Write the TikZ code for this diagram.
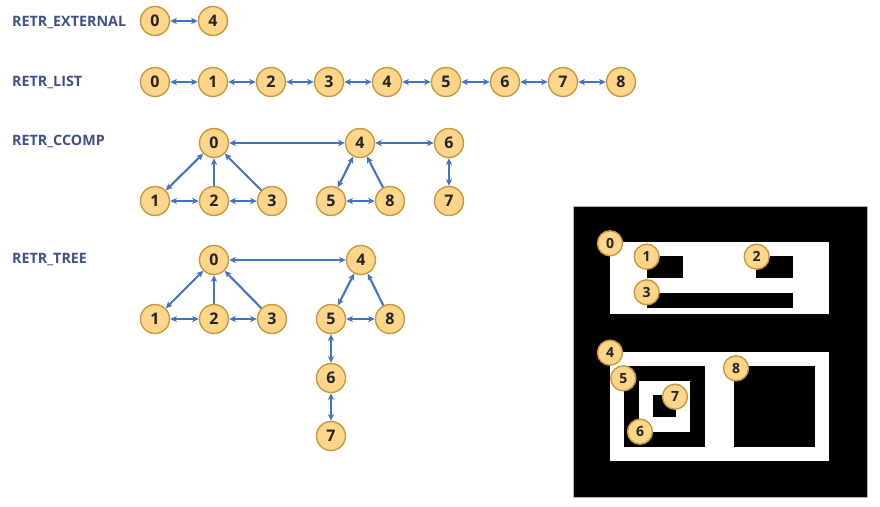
\documentclass[tikz,border=0pt]{standalone}
\usepackage{fontspec}
\setmainfont{Open Sans}
\usetikzlibrary{arrows.meta}
\definecolor{nodefill}{HTML}{FDD68C}
\definecolor{nodeline}{HTML}{C49A3C}
\definecolor{edgeblue}{HTML}{4472C4}
\definecolor{labelblue}{HTML}{3E5088}
\definecolor{digit}{HTML}{222222}
\begin{document}
\begin{tikzpicture}[x=1pt,y=-1pt,
  vtx/.style={circle,draw=nodeline,fill=nodefill,line width=1.4pt,minimum size=29pt,
    inner sep=0pt,text=digit,font=\bfseries\fontsize{16}{16}\selectfont},
  badge/.style={circle,draw=nodeline,fill=nodefill,line width=1.4pt,minimum size=25pt,
    inner sep=0pt,text=digit,font=\bfseries\fontsize{14}{14}\selectfont},
  title/.style={anchor=base west,inner sep=0pt,text=labelblue,font=\bfseries\fontsize{14.3}{15}\selectfont},
  tip/.tip={Stealth[length=6.5pt,width=6pt,inset=1.5pt]},
  link/.style={draw=edgeblue,line width=2.1pt,tip-tip},
  oneway/.style={draw=edgeblue,line width=2.1pt,-tip}]
\useasboundingbox (0,0) rectangle (880,506);

% ---------- RETR_EXTERNAL ----------
\node[title] (tE) at (12,26.5) {RETR\_EXTERNAL};
\node[vtx] (e0) at (155,21) {0};
\node[vtx] (e4) at (213,21) {4};
\draw[link] (e0) -- (e4);

% ---------- RETR_LIST ----------
\node[title] (tL) at (12,86) {RETR\_LIST};
\foreach \i/\x in {0/155,1/213,2/271,3/329,4/387,5/446,6/505,7/563,8/621}
  \node[vtx] (l\i) at (\x,82) {\i};
\foreach \a/\b in {0/1,1/2,2/3,3/4,4/5,5/6,6/7,7/8}
  \draw[link] (l\a) -- (l\b);

% ---------- RETR_CCOMP ----------
\node[title] (tC) at (12,145.5) {RETR\_CCOMP};
\node[vtx] (c0) at (214,143) {0};
\node[vtx] (c4) at (360,143) {4};
\node[vtx] (c6) at (449,143) {6};
\node[vtx] (c1) at (155,201) {1};
\node[vtx] (c2) at (214,201) {2};
\node[vtx] (c3) at (272,201) {3};
\node[vtx] (c5) at (331,201) {5};
\node[vtx] (c8) at (390,201) {8};
\node[vtx] (c7) at (449,201) {7};
\draw[link] (c0) -- (c4);
\draw[link] (c4) -- (c6);
\draw[link] (c6) -- (c7);
\draw[link] (c0) -- (c1);
\draw[oneway] (c2) -- (c0);
\draw[oneway] (c3) -- (c0);
\draw[link] (c1) -- (c2);
\draw[link] (c2) -- (c3);
\draw[link] (c4) -- (c5);
\draw[oneway] (c8) -- (c4);
\draw[link] (c5) -- (c8);

% ---------- RETR_TREE ----------
\node[title] (tT) at (12,263.5) {RETR\_TREE};
\node[vtx] (t0) at (214,260) {0};
\node[vtx] (t4) at (361,260) {4};
\node[vtx] (t1) at (155,319) {1};
\node[vtx] (t2) at (214,319) {2};
\node[vtx] (t3) at (272,319) {3};
\node[vtx] (t5) at (331,319) {5};
\node[vtx] (t8) at (390,319) {8};
\node[vtx] (t6) at (331,378) {6};
\node[vtx] (t7) at (331,436) {7};
\draw[link] (t0) -- (t4);
\draw[link] (t0) -- (t1);
\draw[oneway] (t2) -- (t0);
\draw[oneway] (t3) -- (t0);
\draw[link] (t1) -- (t2);
\draw[link] (t2) -- (t3);
\draw[link] (t4) -- (t5);
\draw[oneway] (t8) -- (t4);
\draw[link] (t5) -- (t8);
\draw[link] (t5) -- (t6);
\draw[link] (t6) -- (t7);

% ---------- contour image ----------
\fill[black] (573.5,206) rectangle (867.5,497.5);
\draw[gray!60,line width=0.6pt] (573.5,206) rectangle (867.5,497.5);
% upper white region with three holes
\fill[white] (610,241.7) rectangle (829.3,314.3);
\fill[black] (646.7,256) rectangle (683.3,277.7);
\fill[black] (756,256) rectangle (792.7,277.7);
\fill[black] (646.7,293.3) rectangle (792.7,307.7);
% lower white region with nested squares
\fill[white] (610,351.7) rectangle (829.3,461);
\fill[black] (624.3,366) rectangle (705,446.7);
\fill[white] (639.3,380.7) rectangle (690.3,431.7);
\fill[black] (653.3,395) rectangle (675.7,417.3);
\fill[black] (734.3,366) rectangle (815,446.7);
% contour badges
\node[badge] (b0) at (610,243.3) {0};
\node[badge] (b1) at (646.7,256.7) {1};
\node[badge] (b2) at (756.7,256.7) {2};
\node[badge] (b3) at (646.7,292.3) {3};
\node[badge] (b4) at (610,352.7) {4};
\node[badge] (b5) at (623.3,378.3) {5};
\node[badge] (b7) at (675,396.7) {7};
\node[badge] (b6) at (640,431.7) {6};
\node[badge] (b8) at (736,368.3) {8};
\end{tikzpicture}
\end{document}
